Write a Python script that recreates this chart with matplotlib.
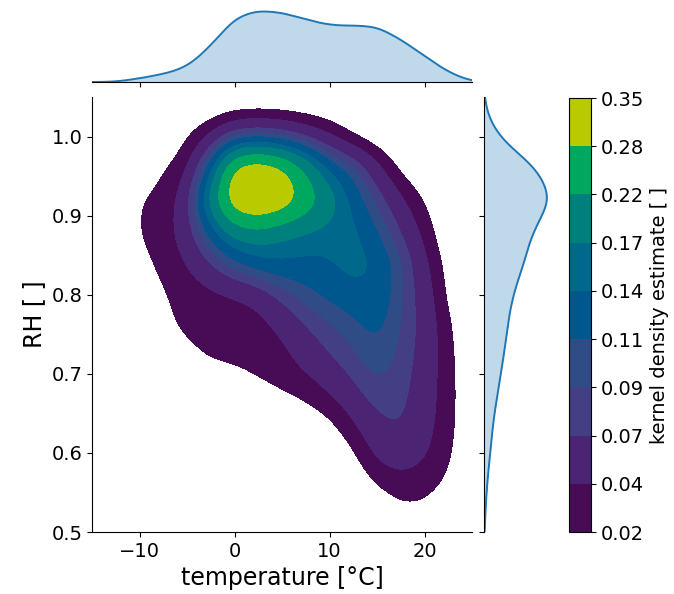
import numpy as np
import matplotlib
matplotlib.use("Agg")
import matplotlib.pyplot as plt

temp_bins = np.array([-12.5, -10, -7.5, -5, -2.5, 0, 2.5, 5, 7.5, 10,
                      12.5, 15, 17.5, 20, 22.5, 25])
rh_bins = np.array([1.04, 1.00, 0.96, 0.92, 0.88, 0.84, 0.80, 0.76,
                    0.72, 0.68, 0.64, 0.60, 0.56, 0.52])
counts = np.array([
    [0, 0, 0, 0, 0, 0, 0, 0, 0, 0, 0, 0, 0, 0, 0, 0],
    [0, 0, 0, 2, 4, 8, 9, 8, 6, 4, 1, 0, 0, 0, 0, 0],
    [0, 0, 2.5, 3, 13, 39, 42, 37, 26, 15, 12, 5.5, 1, 0, 0, 0],
    [0, 2.7, 3, 5.5, 24, 42, 44, 41, 32, 24, 15, 10, 5, 2, 0, 0],
    [0, 2.7, 3.5, 6, 14, 22, 24, 20, 19, 18, 18, 13, 8, 3.5, 0, 0],
    [0, 1.5, 3, 4.5, 8, 12, 15, 16.5, 15.5, 16, 19, 16.5, 11.5, 5.2, 1, 0],
    [0, 0.5, 2.2, 3, 3.5, 4, 5, 9, 12, 14, 15, 16.5, 10.5, 6.8, 1, 0],
    [0, 0, 2, 3, 3, 3, 3.5, 5, 8, 10, 12, 14.5, 10.5, 7.3, 2.5, 0],
    [0, 0, 0, 1.8, 2.8, 2.8, 3, 3.5, 6, 8, 10, 12.5, 10, 6.8, 3, 0],
    [0, 0, 0, 0, 0.5, 1.2, 2, 2.5, 3, 5, 7.5, 10.5, 9.5, 6.3, 3.3, 0],
    [0, 0, 0, 0, 0, 0, 0, 0, 0.8, 1.5, 4.5, 7.8, 9, 5.8, 3.3, 0],
    [0, 0, 0, 0, 0, 0, 0, 0, 0, 0, 1.5, 5.8, 7.3, 5.2, 2.8, 0],
    [0, 0, 0, 0, 0, 0, 0, 0, 0, 0, 0, 2.2, 3.2, 3, 2, 0],
    [0, 0, 0, 0, 0, 0, 0, 0, 0, 0, 0, 0.3, 1.8, 1.8, 0.3, 0],
])

# contour levels and colours as shown on the colour bar
levels = [0.02, 0.04, 0.07, 0.09, 0.11, 0.14, 0.17, 0.22, 0.28, 0.35]
level_labels = ["0.02", "0.04", "0.07", "0.09", "0.11", "0.14", "0.17",
                "0.22", "0.28", "0.35"]
level_colors = ["#470c55", "#4b2574", "#443e84", "#2f4c86", "#00578d",
                "#00698b", "#00807c", "#00a85f", "#b9cb00"]

bw_temp, bw_rh = 1.6, 0.025


def gauss(x, mu, s):
    return np.exp(-0.5 * ((x - mu) / s) ** 2) / (s * np.sqrt(2 * np.pi))


# weighted gaussian kde on a grid
t_grid = np.linspace(-15, 25, 400)
rh_grid = np.linspace(0.5, 1.05, 400)
w = counts / counts.sum()
k_t = gauss(t_grid[:, None], temp_bins[None, :], bw_temp)
k_rh = gauss(rh_grid[:, None], rh_bins[None, :], bw_rh)
dens = k_rh @ w @ k_t.T
marg_t = k_t @ w.sum(axis=0)
marg_rh = k_rh @ w.sum(axis=1)

draw_levels = levels[:-1] + [max(levels[-1], dens.max() * 1.0001)]

fig = plt.figure(figsize=(6.74, 5.94), dpi=100)
W, H = 674, 594


def px_axes(x0, y0, x1, y1):
    return fig.add_axes([x0 / W, 1 - y1 / H, (x1 - x0) / W, (y1 - y0) / H])


ax = px_axes(92, 97, 472, 532)
ax_top = px_axes(92, 8, 472, 82)
ax_right = px_axes(484, 97, 550, 532)
cax = px_axes(569, 98, 591, 532)

cs = ax.contourf(t_grid, rh_grid, dens, levels=draw_levels, colors=level_colors)
ax.set_xlim(-15, 25)
ax.set_ylim(0.5, 1.05)
ax.set_xticks([-10, 0, 10, 20])
ax.set_yticks([0.5, 0.6, 0.7, 0.8, 0.9, 1.0])
ax.tick_params(labelsize=14)
ax.set_xlabel("temperature [°C]", fontsize=17)
ax.set_ylabel("RH [ ]", fontsize=17)
for s in ["top", "right"]:
    ax.spines[s].set_visible(False)

# marginal kdes
ax_top.fill_between(t_grid, marg_t, color="#1f77b4", alpha=0.28, lw=0)
ax_top.plot(t_grid, marg_t, color="#1f77b4", lw=1.4)
ax_top.set_xlim(-15, 25)
ax_top.set_ylim(0, marg_t.max() * 1.05)
ax_top.set_xticks([-10, 0, 10, 20])
ax_top.tick_params(labelbottom=False, left=False, labelleft=False)
for s in ["top", "right", "left"]:
    ax_top.spines[s].set_visible(False)

ax_right.fill_betweenx(rh_grid, marg_rh, color="#1f77b4", alpha=0.28, lw=0)
ax_right.plot(marg_rh, rh_grid, color="#1f77b4", lw=1.4)
ax_right.set_ylim(0.5, 1.05)
ax_right.set_xlim(0, marg_rh.max() * 1.05)
ax_right.set_yticks([0.5, 0.6, 0.7, 0.8, 0.9, 1.0])
ax_right.tick_params(labelleft=False, bottom=False, labelbottom=False)
for s in ["top", "right", "bottom"]:
    ax_right.spines[s].set_visible(False)

cb = fig.colorbar(cs, cax=cax)
cb.set_ticks(draw_levels)
cb.set_ticklabels(level_labels)
cb.ax.tick_params(labelsize=14)
cb.set_label("kernel density estimate [ ]", fontsize=14)

fig.savefig("out.png", dpi=100)
